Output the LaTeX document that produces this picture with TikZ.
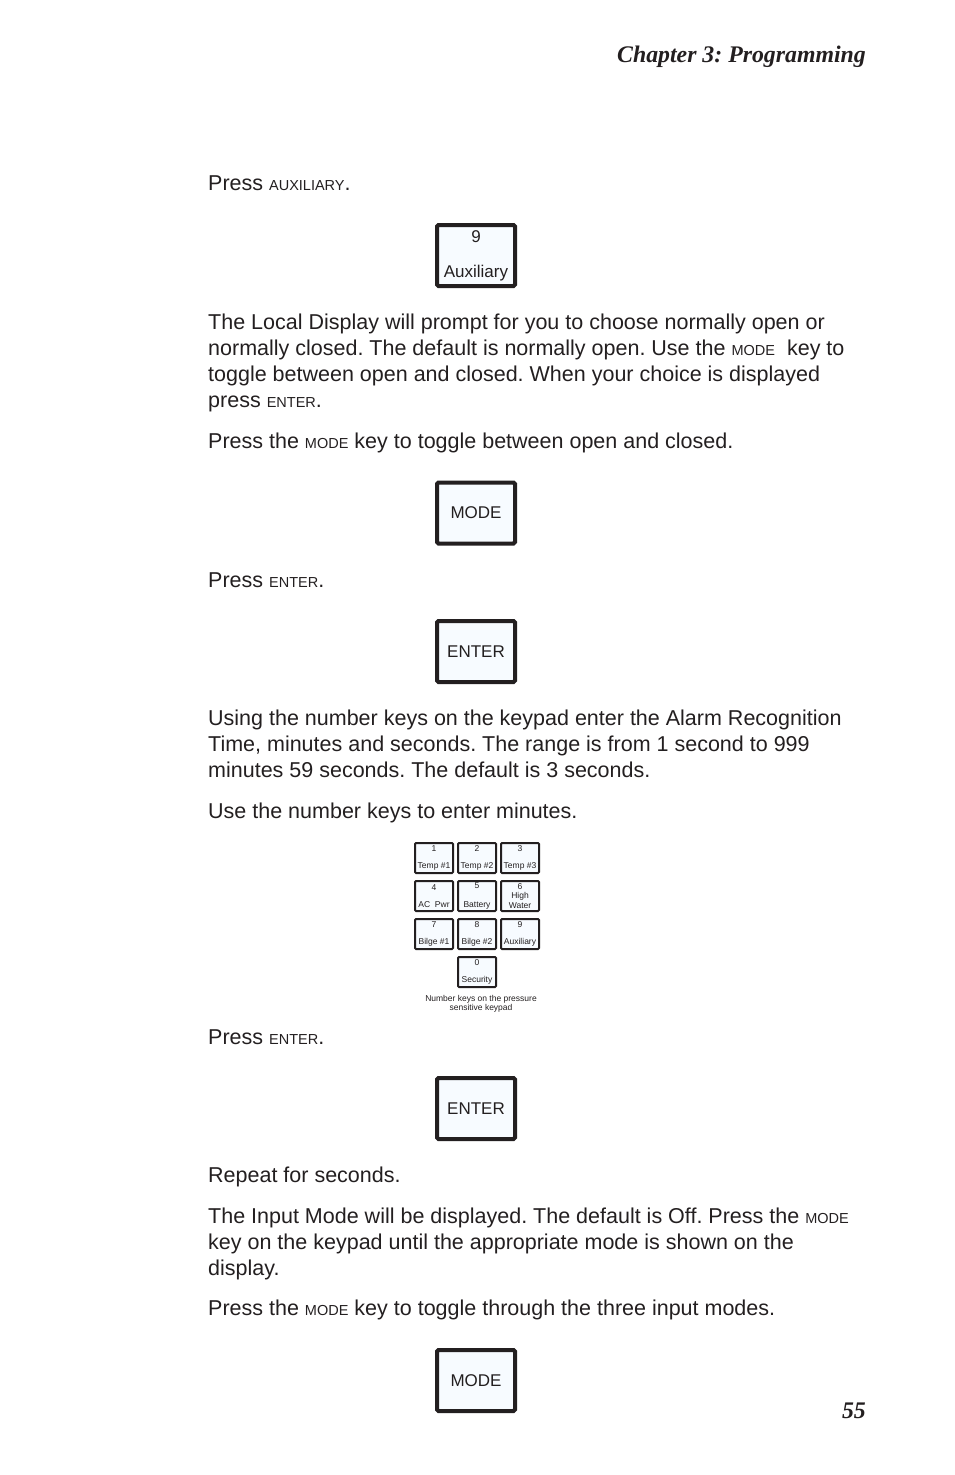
\documentclass[tikz,border=0pt]{standalone}
\usepackage{fontspec}
\setmainfont{Liberation Sans}
\newfontfamily\headfont{Liberation Serif}
\usetikzlibrary{positioning}
\definecolor{ink}{RGB}{35,31,32}
\definecolor{keyfill}{RGB}{247,251,255}
\newcommand{\keyname}[1]{{\fontsize{14.5}{14.5}\selectfont #1}}
\frenchspacing

\begin{document}
\begin{tikzpicture}
                [
                    x=1pt, y=-1pt,
                    bodytext/.style={anchor=base west, inner sep=0pt, text=ink, font=\fontsize{21.5}{26}\selectfont, align=left},
                    headtext/.style={anchor=base east, inner sep=0pt, text=ink, font=\headfont\bfseries\itshape\fontsize{23.8}{28}\selectfont},
                    bigkey/.style={rectangle, draw=ink, fill=keyfill, line width=4pt, rounded corners=1.5pt, minimum width=78pt, minimum height=61pt, inner sep=0pt, text=ink, font=\fontsize{17}{20}\selectfont, align=center},
                    padkey/.style={rectangle, draw=ink, fill=keyfill, line width=2pt, rounded corners=1pt, minimum width=38pt, minimum height=30pt, inner sep=0pt, text=ink, font=\fontsize{8.5}{9.5}\selectfont, align=center},
                    captext/.style={inner sep=0pt, text=ink, font=\fontsize{8.5}{9}\selectfont, align=center},
                ]
                \useasboundingbox (0,0) rectangle (954,1475);

                \node [headtext] (chapterhead) at (866,62) {Chapter 3: Programming};
                \node [headtext] (pagenum) at (866,1418) {55};

                % paragraphs sit on the baseline of their last line
                \node [bodytext] (pressaux) at (208,190) {Press \keyname{AUXILIARY}.};
                \node [bigkey] (auxkey) at (476,255.5) {9\\[15pt]Auxiliary};

                \node [bodytext] (promptpara) at (208,407) {The Local Display will prompt for you to choose normally open or\\
                    normally closed. The default is normally open. Use the \keyname{MODE}~ key to\\
                    toggle between open and closed. When your choice is displayed\\
                    press \keyname{ENTER}.};
                \node [bodytext] (pressmode) at (208,448) {Press the \keyname{MODE} key to toggle between open and closed.};
                \node [bigkey] (modekey) at (476,513) {MODE};

                \node [bodytext] (pressenter) at (208,587) {Press \keyname{ENTER}.};
                \node [bigkey] (enterkey) at (476,651.5) {ENTER};

                \node [bodytext] (rangepara) at (208,777) {Using the number keys on the keypad enter the Alarm Recognition\\
                    Time, minutes and seconds. The range is from 1 second to 999\\
                    minutes 59 seconds. The default is 3 seconds.};
                \node [bodytext] (useminutes) at (208,818) {Use the number keys to enter minutes.};

                % number keys of the keypad
                \foreach \num/\name/\gap/\col/\row in {1/{Temp \#1}/8/0/0, 2/{Temp \#2}/8/1/0, 3/{Temp \#3}/8/2/0,
                    4/{AC~~Pwr}/8/0/1, 5/{Battery}/9/1/1, 6/{High\\Water}/0/2/1,
                    7/{Bilge \#1}/8/0/2, 8/{Bilge \#2}/8/1/2, 9/{Auxiliary}/8/2/2, 0/{Security}/8/1/3}
                    \node [padkey] (key\num) at (434+43*\col,858+38*\row) {\num\\[\gap pt]\name};
                \node [captext, below=7pt of key0, xshift=4pt] (padcaption) {Number keys on the pressure\\sensitive keypad};

                \node [bodytext] (pressenter2) at (208,1044) {Press \keyname{ENTER}.};
                \node [bigkey] (enterkey2) at (476,1108.5) {ENTER};

                \node [bodytext] (repeatsec) at (208,1182) {Repeat for seconds.};
                \node [bodytext] (inputpara) at (208,1275) {The Input Mode will be displayed. The default is Off. Press the \keyname{MODE}\\
                    key on the keypad until the appropriate mode is shown on the\\
                    display.};
                \node [bodytext] (pressmode2) at (208,1315) {Press the \keyname{MODE} key to toggle through the three input modes.};
                \node [bigkey] (modekey2) at (476,1380.5) {MODE};

            \end{tikzpicture}
\end{document}
